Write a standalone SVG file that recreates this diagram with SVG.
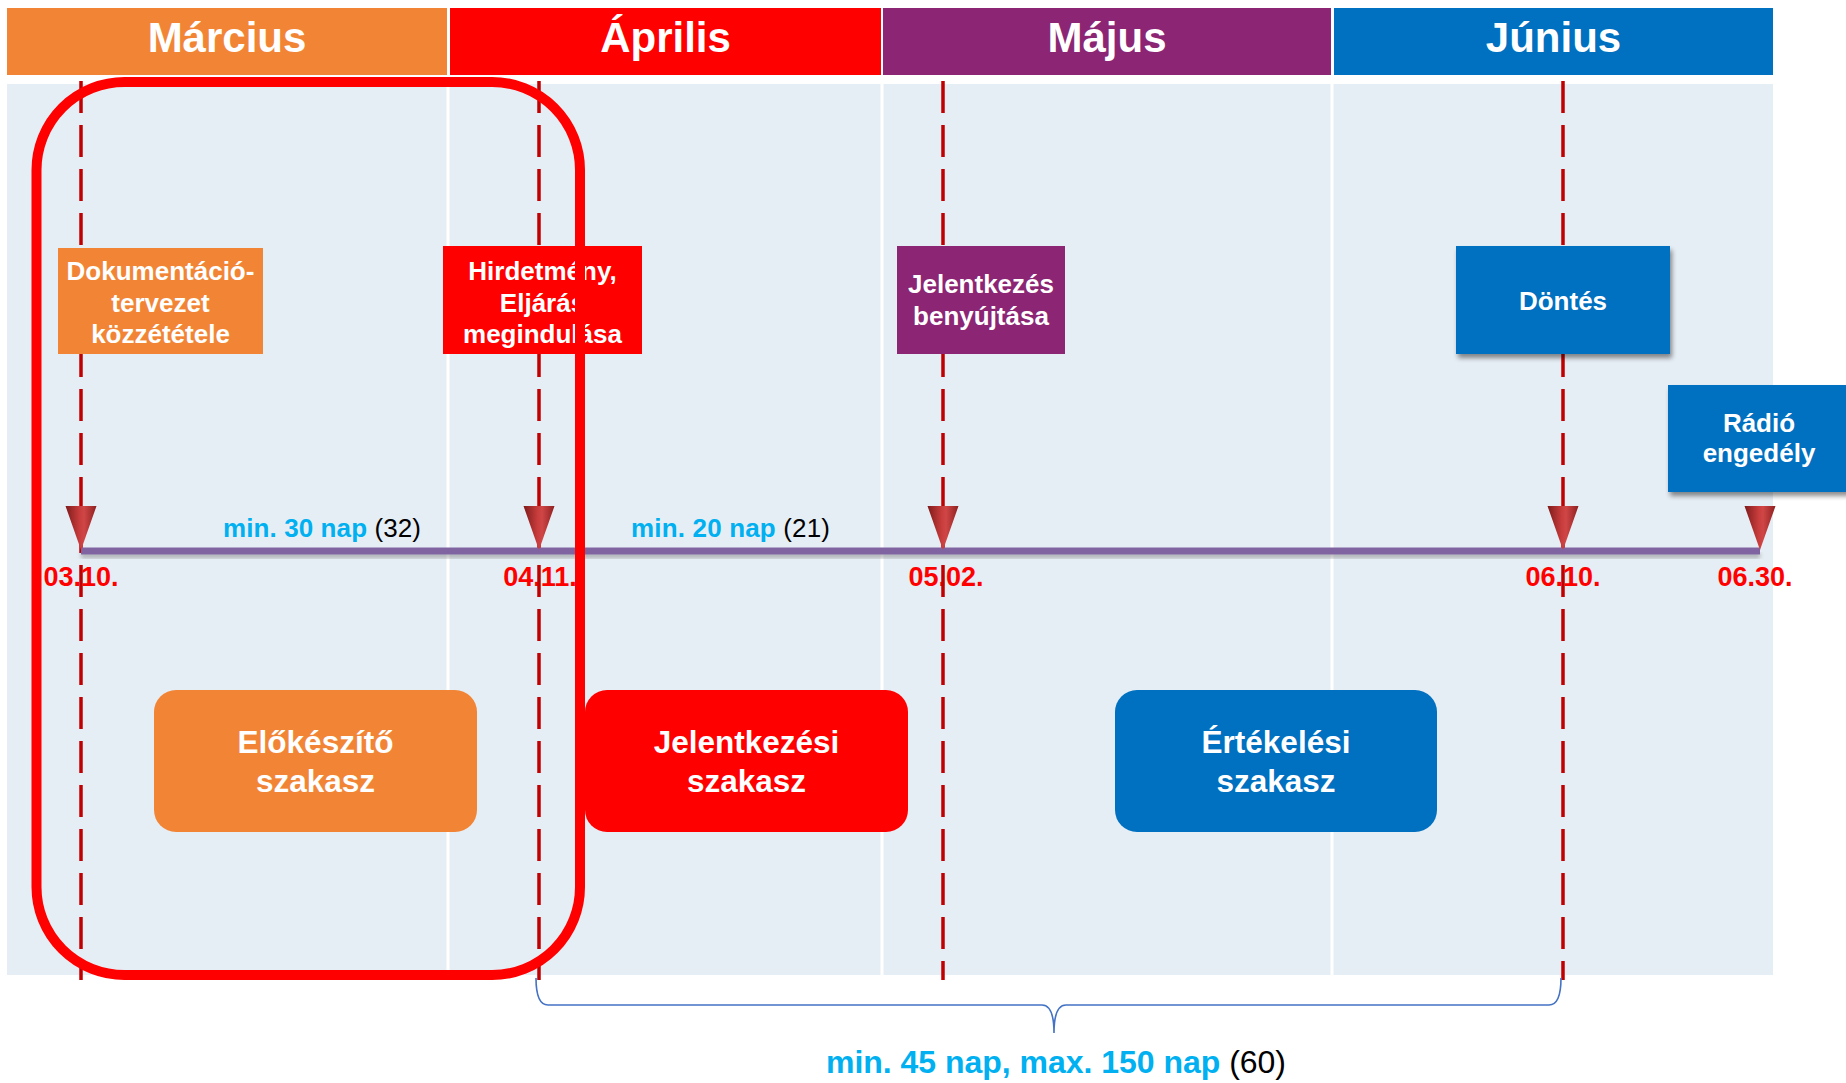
<svg xmlns="http://www.w3.org/2000/svg" width="1846" height="1083" viewBox="0 0 1846 1083">
  <defs>
    <linearGradient id="triGrad" x1="0" y1="0" x2="1" y2="0">
      <stop offset="0" stop-color="#7E1B1B"/>
      <stop offset="0.45" stop-color="#C83C3C"/>
      <stop offset="0.6" stop-color="#D04646"/>
      <stop offset="1" stop-color="#8E2020"/>
    </linearGradient>
    <filter id="shadow" x="-10%" y="-10%" width="130%" height="140%">
      <feGaussianBlur in="SourceAlpha" stdDeviation="2.5"/>
      <feOffset dx="2" dy="4" result="b"/>
      <feComponentTransfer><feFuncA type="linear" slope="0.45"/></feComponentTransfer>
      <feMerge><feMergeNode/><feMergeNode in="SourceGraphic"/></feMerge>
    </filter>
    <filter id="blur2"><feGaussianBlur stdDeviation="2"/></filter>
    <path id="tri" d="M-15.5,0 L15.5,0 L0,44 Z"/>
  </defs>
  <style>
    text { font-family: "Liberation Sans", Arial, sans-serif; font-weight: bold; text-anchor: middle; }
    .month { fill: #FFFFFF; font-size: 42px; }
    .lbl { fill: #FFFFFF; font-size: 26px; }
    .phase { fill: #FFFFFF; font-size: 31.5px; }
    .date { fill: #FF0000; font-size: 27px; }
    .dur { fill: #00B0F0; font-size: 26px; text-anchor: start; }
    .paren { fill: #000000; font-weight: normal; }
    .dash { stroke: #C00000; stroke-width: 3.5; stroke-dasharray: 32 12; fill: none; }
    .sep { stroke: #FFFFFF; stroke-width: 3; }
    .orange { fill: #F28535; }
    .red { fill: #FF0000; }
    .purple { fill: #8B2574; }
    .blue { fill: #0070C0; }
  </style>

  <rect x="0" y="0" width="1846" height="1083" fill="#FFFFFF"/>

  <!-- background panel -->
  <g id="panel">
    <rect x="7" y="84" width="1766" height="891" fill="#E6EEF5"/>
    <line class="sep" x1="448" y1="84" x2="448" y2="975"/>
    <line class="sep" x1="882" y1="84" x2="882" y2="975"/>
    <line class="sep" x1="1332" y1="84" x2="1332" y2="975"/>
  </g>

  <!-- month headers -->
  <g id="month-marcius"><rect class="orange" x="7" y="8" width="440" height="67"/><text class="month" x="227" y="52">Március</text></g>
  <g id="month-aprilis"><rect class="red" x="450" y="8" width="431" height="67"/><text class="month" x="665.5" y="52">Április</text></g>
  <g id="month-majus"><rect class="purple" x="883" y="8" width="448" height="67"/><text class="month" x="1107" y="52">Május</text></g>
  <g id="month-junius"><rect class="blue" x="1334" y="8" width="439" height="67"/><text class="month" x="1553.5" y="52">Június</text></g>

  <!-- dates -->
  <g id="dates">
    <text class="date" x="81" y="586">03.10.</text>
    <text class="date" x="540" y="586">04.11.</text>
    <text class="date" x="946" y="586">05.02.</text>
    <text class="date" x="1563" y="586">06.10.</text>
    <text class="date" x="1755" y="586">06.30.</text>
  </g>

  <!-- connectors -->
  <g id="connectors">
    <line class="dash" x1="81" y1="81" x2="81" y2="980"/>
    <line class="dash" x1="539" y1="81" x2="539" y2="980"/>
    <line class="dash" x1="943" y1="81" x2="943" y2="980"/>
    <line class="dash" x1="1563" y1="81" x2="1563" y2="980"/>
    <rect x="81" y="553" width="1679" height="5" fill="#7F7F7F" opacity="0.6" filter="url(#blur2)"/>
    <rect x="81" y="547.5" width="1679" height="7" fill="#8064A2"/>
    <path d="M536,978 Q536,1005 548,1005 L1042,1005 Q1054,1005 1054,1033 Q1054,1005 1066,1005 L1549,1005 Q1561,1005 1561,978" fill="none" stroke="#4472C4" stroke-width="1.6"/>
  </g>

  <!-- milestone triangles -->
  <g id="milestones" fill="url(#triGrad)">
    <use href="#tri" x="81" y="506"/>
    <use href="#tri" x="539" y="506"/>
    <use href="#tri" x="943" y="506"/>
    <use href="#tri" x="1563" y="506"/>
    <use href="#tri" x="1760" y="506"/>
  </g>

  <!-- duration labels -->
  <g id="durations">
    <text class="dur" x="223" y="537" textLength="198">min. 30 nap <tspan class="paren">(32)</tspan></text>
    <text class="dur" x="631" y="537" textLength="199">min. 20 nap <tspan class="paren">(21)</tspan></text>
  </g>

  <!-- event label boxes -->
  <g id="box-dokumentacio">
    <rect class="orange" x="58" y="248" width="205" height="106"/>
    <text class="lbl" x="160.5" y="280">Dokumentáció-</text>
    <text class="lbl" x="160.5" y="312">tervezet</text>
    <text class="lbl" x="160.5" y="343">közzététele</text>
  </g>
  <g id="box-hirdetmeny">
    <rect class="red" x="443" y="246" width="199" height="108"/>
    <text class="lbl" x="542.5" y="280">Hirdetmény,</text>
    <text class="lbl" x="542.5" y="312">Eljárás</text>
    <text class="lbl" x="542.5" y="343">megindulása</text>
  </g>
  <g id="box-jelentkezes">
    <rect class="purple" x="897" y="246" width="168" height="108"/>
    <text class="lbl" x="981" y="293">Jelentkezés</text>
    <text class="lbl" x="981" y="325">benyújtása</text>
  </g>
  <g id="box-dontes">
    <rect class="blue" x="1456" y="246" width="214" height="108" filter="url(#shadow)"/>
    <text class="lbl" x="1563" y="310">Döntés</text>
  </g>
  <g id="box-radio">
    <rect class="blue" x="1668" y="385" width="190" height="107" filter="url(#shadow)"/>
    <text class="lbl" x="1759" y="432">Rádió</text>
    <text class="lbl" x="1759" y="462">engedély</text>
  </g>

  <!-- phase boxes -->
  <g id="phase-elokeszito">
    <rect class="orange" x="154" y="690" width="323" height="142" rx="22"/>
    <text class="phase" x="315.5" y="753">Előkészítő</text>
    <text class="phase" x="315.5" y="792">szakasz</text>
  </g>
  <g id="phase-jelentkezesi">
    <rect class="red" x="585" y="690" width="323" height="142" rx="22"/>
    <text class="phase" x="746.5" y="753">Jelentkezési</text>
    <text class="phase" x="746.5" y="792">szakasz</text>
  </g>
  <g id="phase-ertekelesi">
    <rect class="blue" x="1115" y="690" width="322" height="142" rx="22"/>
    <text class="phase" x="1276" y="753">Értékelési</text>
    <text class="phase" x="1276" y="792">szakasz</text>
  </g>

  <!-- highlight frame -->
  <g id="highlight">
    <rect x="36.5" y="82" width="543.5" height="893" rx="88" fill="none" stroke="#FF0000" stroke-width="10"/>
  </g>

  <!-- bottom summary -->
  <g id="summary">
    <text class="dur" x="826" y="1073" style="font-size:32px" textLength="460">min. 45 nap, max. 150 nap <tspan class="paren">(60)</tspan></text>
  </g>
</svg>
